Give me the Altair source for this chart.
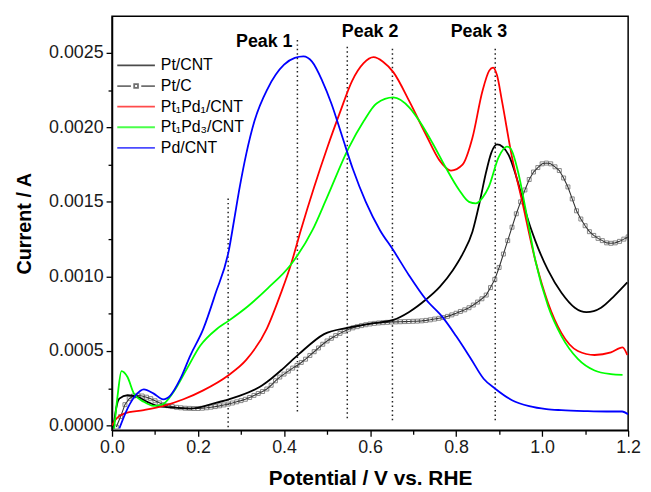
import altair as alt
import pandas as pd

# ---------------- data (current in mA, converted to A below) ----------------
series_names = ["Pt/CNT", "Pt/C", "Pt\u2081Pd\u2081/CNT", "Pt\u2081Pd\u2083/CNT", "Pd/CNT"]
series_colors = ["#000000", "#333333", "#ff0000", "#00ff00", "#0000ff"]
legend_shapes = [
    "M-2,0H2",
    "M-2,0H-0.55M0.55,0H2M-0.2,-0.2H0.2V0.2H-0.2Z",
    "M-2,0H2",
    "M-2,0H2",
    "M-2,0H2",
]

ptcnt_v = [0.003, 0.01, 0.017, 0.036, 0.059, 0.082, 0.105, 0.136, 0.182, 0.235, 0.289, 0.343, 0.37, 0.397,
           0.435, 0.493, 0.55, 0.608, 0.654, 0.69, 0.73, 0.762, 0.792, 0.815, 0.838, 0.855, 0.869, 0.882,
           0.895, 0.908, 0.922, 0.945, 0.965, 0.984, 1.014, 1.045, 1.076, 1.103, 1.137, 1.168, 1.198]
ptcnt_i = [-0.02, 0.12, 0.18, 0.203, 0.192, 0.159, 0.132, 0.121, 0.114, 0.147, 0.192, 0.258, 0.314, 0.38,
           0.48, 0.613, 0.657, 0.686, 0.708, 0.76, 0.845, 0.93, 1.04, 1.15, 1.30, 1.50, 1.69, 1.83,
           1.885, 1.87, 1.815, 1.62, 1.40, 1.24, 1.04, 0.89, 0.79, 0.76, 0.79, 0.87, 0.96]

ptc_v = [0.01, 0.02, 0.03, 0.04, 0.05, 0.06, 0.07, 0.08, 0.09, 0.10,
         0.11, 0.12, 0.13, 0.14, 0.15, 0.16, 0.17, 0.18, 0.19, 0.20,
         0.21, 0.22, 0.23, 0.24, 0.25, 0.26, 0.27, 0.28, 0.29, 0.30,
         0.31, 0.32, 0.33, 0.34, 0.35, 0.36, 0.37, 0.38, 0.39, 0.40,
         0.41, 0.42, 0.43, 0.44, 0.45, 0.46, 0.47, 0.48, 0.49, 0.50,
         0.51, 0.52, 0.53, 0.54, 0.55, 0.56, 0.57, 0.58, 0.59, 0.60,
         0.61, 0.62, 0.63, 0.64, 0.65, 0.66, 0.67, 0.68, 0.69, 0.70,
         0.71, 0.72, 0.73, 0.74, 0.75, 0.76, 0.77, 0.78, 0.79, 0.80,
         0.81, 0.82, 0.83, 0.84, 0.85, 0.86, 0.87, 0.88, 0.89, 0.90,
         0.91, 0.92, 0.93, 0.94, 0.95, 0.96, 0.97, 0.98, 0.99, 1.00,
         1.01, 1.02, 1.03, 1.04, 1.05, 1.06, 1.07, 1.08, 1.09, 1.10,
         1.11, 1.12, 1.13, 1.14, 1.15, 1.16, 1.17, 1.18, 1.19, 1.20]
ptc_i = [-0.01, 0.06, 0.14, 0.18, 0.198, 0.203, 0.198, 0.19, 0.18, 0.166,
         0.152, 0.14, 0.133, 0.127, 0.122, 0.119, 0.116, 0.115, 0.114, 0.114,
         0.116, 0.119, 0.123, 0.127, 0.132, 0.138, 0.144, 0.151, 0.159, 0.167,
         0.176, 0.188, 0.202, 0.215, 0.228, 0.245, 0.27, 0.30, 0.325, 0.345,
         0.365, 0.385, 0.403, 0.423, 0.445, 0.47, 0.495, 0.52, 0.545, 0.567,
         0.585, 0.603, 0.618, 0.633, 0.646, 0.655, 0.663, 0.67, 0.676, 0.681,
         0.685, 0.688, 0.69, 0.692, 0.694, 0.695, 0.696, 0.697, 0.698, 0.699,
         0.70, 0.702, 0.705, 0.709, 0.714, 0.719, 0.724, 0.732, 0.742, 0.753,
         0.765, 0.776, 0.79, 0.808, 0.828, 0.85, 0.875, 0.925, 0.98, 1.06,
         1.15, 1.24, 1.33, 1.42, 1.50, 1.58, 1.65, 1.70, 1.73, 1.755,
         1.76, 1.755, 1.735, 1.71, 1.66, 1.60, 1.52, 1.44, 1.385, 1.34,
         1.30, 1.275, 1.255, 1.24, 1.225, 1.222, 1.225, 1.235, 1.25, 1.265]

pt1pd1_v = [0.0, 0.01, 0.028, 0.074, 0.12, 0.166, 0.212, 0.27, 0.312, 0.36, 0.393, 0.416, 0.439, 0.47,
            0.50, 0.53, 0.558, 0.585, 0.608, 0.63, 0.654, 0.692, 0.73, 0.761, 0.788, 0.815, 0.838, 0.861,
            0.877, 0.886, 0.895, 0.907, 0.93, 0.953, 0.984, 1.014, 1.045, 1.083, 1.122, 1.16, 1.187, 1.198]
pt1pd1_i = [0.0, 0.045, 0.08, 0.103, 0.132, 0.176, 0.236, 0.336, 0.44, 0.65, 0.89, 1.08, 1.31, 1.60,
            1.86, 2.10, 2.31, 2.43, 2.47, 2.44, 2.37, 2.17, 1.95, 1.78, 1.71, 1.75, 1.93, 2.24,
            2.38, 2.40, 2.35, 2.17, 1.80, 1.51, 1.11, 0.82, 0.62, 0.50, 0.473, 0.49, 0.524, 0.473]

pt1pd3_v = [0.005, 0.013, 0.022, 0.036, 0.051, 0.074, 0.097, 0.117, 0.143, 0.174, 0.205, 0.243, 0.27,
            0.316, 0.362, 0.416, 0.466, 0.50, 0.55, 0.585, 0.615, 0.654, 0.692, 0.715, 0.746, 0.776,
            0.807, 0.83, 0.846, 0.862, 0.876, 0.899, 0.918, 0.926, 0.945, 0.961, 0.984, 1.014, 1.045,
            1.083, 1.122, 1.16, 1.187]
pt1pd3_i = [-0.02, 0.20, 0.365, 0.325, 0.214, 0.159, 0.132, 0.141, 0.225, 0.38, 0.535, 0.646, 0.70,
            0.80, 0.92, 1.08, 1.31, 1.53, 1.86, 2.04, 2.16, 2.20, 2.13, 2.04, 1.89, 1.73,
            1.58, 1.50, 1.49, 1.53, 1.60, 1.80, 1.87, 1.86, 1.69, 1.46, 1.11, 0.80, 0.60,
            0.447, 0.369, 0.345, 0.34]

pdcnt_v = [0.017, 0.036, 0.055, 0.074, 0.097, 0.119, 0.136, 0.159, 0.182, 0.212, 0.24, 0.272, 0.284,
           0.297, 0.312, 0.331, 0.362, 0.40, 0.425, 0.445, 0.465, 0.489, 0.51, 0.535, 0.56, 0.59, 0.623,
           0.653, 0.69, 0.73, 0.769, 0.80, 0.834, 0.864, 0.891, 0.93, 0.97, 1.01, 1.045, 1.10, 1.15,
           1.186, 1.20]
pdcnt_i = [-0.02, 0.114, 0.203, 0.243, 0.214, 0.176, 0.203, 0.314, 0.469, 0.646, 0.88, 1.18, 1.38,
           1.60, 1.82, 2.04, 2.26, 2.42, 2.465, 2.475, 2.44, 2.31, 2.16, 1.94, 1.72, 1.50, 1.31,
           1.18, 1.01, 0.845, 0.725, 0.60, 0.45, 0.314, 0.247, 0.17, 0.13, 0.11, 0.103, 0.097, 0.094,
           0.094, 0.075]

peak_labels = ["Peak 1", "Peak 2", "Peak 3"]
peak_label_v = [0.354, 0.600, 0.853]
peak_label_i = [2.572, 2.637, 2.637]

vline_v = [0.27, 0.431, 0.547, 0.652, 0.891]
vline_top_i = [1.523, 2.586, 2.54, 2.526, 2.526]
vline_bottom_i = [-0.032, 0.08, 0.035, 0.035, 0.035]

x_ticks = [0.0, 0.1, 0.2, 0.3, 0.4, 0.5, 0.6, 0.7, 0.8, 0.9, 1.0, 1.1, 1.2]
y_ticks = [0.0, 0.00025, 0.0005, 0.00075, 0.001, 0.00125, 0.0015, 0.00175, 0.002, 0.00225, 0.0025]
x_domain = [0.0, 1.2]
y_domain = [-0.000032, 0.002745]

# ---------------- tables ----------------
MA = 1e-3
curves = [
    (series_names[0], ptcnt_v, ptcnt_i),
    (series_names[2], pt1pd1_v, pt1pd1_i),
    (series_names[3], pt1pd3_v, pt1pd3_i),
    (series_names[4], pdcnt_v, pdcnt_i),
]
rows = []
for name, vs, cs in curves:
    for v, c in zip(vs, cs):
        rows.append({"V": v, "I": c * MA, "series": name})
df_lines = pd.DataFrame(rows)
df_ptc = pd.DataFrame({"V": ptc_v, "I": [c * MA for c in ptc_i], "series": series_names[1]})
df_peaks = pd.DataFrame({"V": peak_label_v, "I": [c * MA for c in peak_label_i], "label": peak_labels})
df_vlines = pd.DataFrame({"V": vline_v, "top": [c * MA for c in vline_top_i],
                          "bottom": [c * MA for c in vline_bottom_i]})

FONT = "Liberation Sans"

x_axis = alt.Axis(
    values=x_ticks,
    labelExpr="round(datum.value*10) % 2 === 0 ? format(datum.value, '.1f') : ''",
    tickSize={"condition": {"test": "round(datum.value*10) % 2 === 0", "value": 6}, "value": 4},
    labelOverlap=False, labelFlush=False, grid=False,
    labelFontSize=18, labelFont=FONT, labelColor="#1a1a1a", labelPadding=2,
    title="Potential / V vs. RHE", titleFont=FONT, titleFontSize=21, titleFontWeight="bold",
    titleColor="#000000", titlePadding=12,
    domainColor="#000000", domainWidth=1.5, tickColor="#000000", tickWidth=1.3,
)
y_axis = alt.Axis(
    values=y_ticks,
    labelExpr="round(datum.value*4000) % 2 === 0 ? format(datum.value, '.4f') : ''",
    tickSize={"condition": {"test": "round(datum.value*4000) % 2 === 0", "value": 6}, "value": 4},
    labelOverlap=False, labelFlush=False, grid=False,
    labelFontSize=18, labelFont=FONT, labelColor="#1a1a1a", labelPadding=3,
    title="Current / A", titleFont=FONT, titleFontSize=20, titleFontWeight="bold",
    titleColor="#000000", titlePadding=14,
    domainColor="#000000", domainWidth=1.5, tickColor="#000000", tickWidth=1.3,
)

X = alt.X("V:Q", scale=alt.Scale(domain=x_domain, nice=False, zero=False), axis=x_axis)
Y = alt.Y("I:Q", scale=alt.Scale(domain=y_domain, nice=False, zero=False), axis=y_axis)

legend = alt.Legend(
    orient="none", legendX=13.8, legendY=39.2, title=None, padding=0,
    labelFont=FONT, labelFontSize=16, labelColor="#000000", labelOffset=14.5,
    symbolSize=361, symbolStrokeWidth=1.8, rowPadding=1.8,
)
color_scale = alt.Scale(domain=series_names, range=series_colors)
shape_scale = alt.Scale(domain=series_names, range=legend_shapes)
COLOR = alt.Color("series:N", scale=color_scale, legend=legend)

vlines = alt.Chart(df_vlines).mark_rule(
    color="#222222", strokeWidth=1.5, strokeDash=[1.5, 3]
).encode(x=X, y=alt.Y("top:Q", scale=alt.Scale(domain=y_domain, nice=False, zero=False), axis=y_axis),
         y2="bottom:Q")

ptc_line = alt.Chart(df_ptc).mark_line(strokeWidth=1.1, clip=True).encode(x=X, y=Y, color=COLOR)
ptc_pts = alt.Chart(df_ptc).mark_point(
    shape="square", size=16, filled=False, strokeWidth=0.9, clip=True
).encode(x=X, y=Y, color=alt.value("#444444"))

lines = alt.Chart(df_lines).mark_line(strokeWidth=1.8, interpolate="monotone", clip=True).encode(
    x=X, y=Y, color=COLOR, detail="series:N"
)

legend_only = alt.Chart(df_lines).transform_filter("datum.V < -10").mark_point(filled=False).encode(
    x=X, y=Y, color=COLOR, shape=alt.Shape("series:N", scale=shape_scale, legend=legend)
)

peaks = alt.Chart(df_peaks).mark_text(
    font=FONT, fontSize=18, fontWeight="bold", color="#000000", align="center", baseline="middle"
).encode(x=X, y=Y, text="label:N")

chart = alt.layer(vlines, ptc_line, ptc_pts, lines, legend_only, peaks).properties(
    width=521, height=418,
    autosize=alt.AutoSizeParams(type="none"),
    padding={"left": 105, "top": 6, "right": 15, "bottom": 60},
).configure_view(stroke="#000000", strokeWidth=1.5)

chart.save("out.html", embed_options={"renderer": "svg", "actions": False})
